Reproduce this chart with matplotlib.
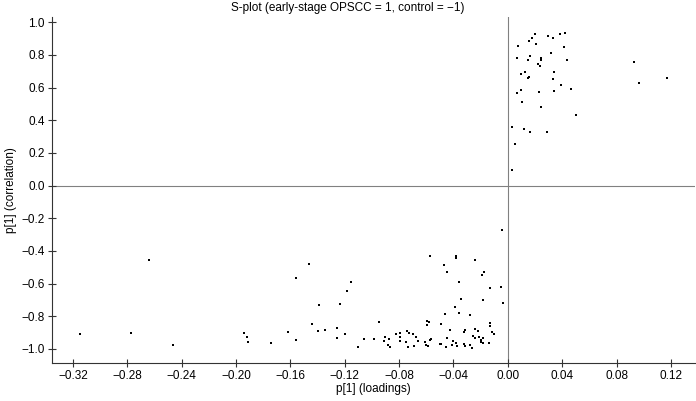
import matplotlib.pyplot as plt
from matplotlib.ticker import FuncFormatter

# S-plot points
x_pos = [0.0198, 0.0176, 0.0156, 0.0210, 0.0293, 0.0330, 0.0382, 0.0421, 0.0072, 0.0411,
         0.0315, 0.0065, 0.0161, 0.0149, 0.0242, 0.0244, 0.0225, 0.0234, 0.0436, 0.0097,
         0.0129, 0.0156, 0.0149, 0.0340, 0.0335, 0.0389, 0.0468, 0.0094, 0.0070, 0.0232,
         0.0340, 0.0102, 0.0244, 0.0502, 0.0031, 0.0117, 0.0163, 0.0286, 0.0050, 0.0031,
         0.0929, 0.0963, 0.1175]
y_pos = [0.930, 0.901, 0.883, 0.866, 0.915, 0.905, 0.926, 0.934, 0.852, 0.848,
         0.809, 0.779, 0.795, 0.768, 0.781, 0.767, 0.744, 0.730, 0.768, 0.681,
         0.693, 0.662, 0.656, 0.693, 0.650, 0.617, 0.591, 0.587, 0.565, 0.575,
         0.581, 0.513, 0.483, 0.430, 0.358, 0.344, 0.326, 0.328, 0.256, 0.095,
         0.758, 0.626, 0.656]

x_neg = [-0.3148, -0.2775, -0.2642, -0.2461, -0.1940, -0.1920, -0.1909, -0.1744, -0.1619, -0.1560,
         -0.1557, -0.1464, -0.1157, -0.1184, -0.1390, -0.1236, -0.1440, -0.1398, -0.1349, -0.1258,
         -0.1256, -0.1202, -0.1101, -0.1062, -0.0988, -0.0951, -0.0904, -0.0875, -0.0912, -0.0885,
         -0.0870, -0.0823, -0.0797, -0.0792, -0.0792, -0.0753, -0.0738, -0.0742, -0.0725, -0.0576,
         -0.0384, -0.0379, -0.0244, -0.0470, -0.0446, -0.0173, -0.0188, -0.0362, -0.0134, -0.0048,
         -0.0348, -0.0180, -0.0035, -0.0392, -0.0462, -0.0362, -0.0278, -0.0595, -0.0578, -0.0593,
         -0.0492, -0.0134, -0.0131, -0.0423, -0.0313, -0.0325, -0.0239, -0.0222, -0.0119, -0.0102,
         -0.0698, -0.0674, -0.0691, -0.0661, -0.0613, -0.0602, -0.0591, -0.0576, -0.0566, -0.0502,
         -0.0490, -0.0453, -0.0448, -0.0414, -0.0404, -0.0377, -0.0381, -0.0325, -0.0313, -0.0281,
         -0.0267, -0.0259, -0.0242, -0.0215, -0.0195, -0.0180, -0.0200, -0.0183, -0.0136, -0.0040]
y_neg = [-0.911, -0.901, -0.456, -0.973, -0.903, -0.924, -0.960, -0.966, -0.897, -0.948,
         -0.564, -0.477, -0.593, -0.646, -0.728, -0.722, -0.850, -0.891, -0.883, -0.873,
         -0.930, -0.909, -0.985, -0.940, -0.938, -0.834, -0.924, -0.938, -0.952, -0.973,
         -0.985, -0.909, -0.905, -0.928, -0.952, -0.956, -0.987, -0.891, -0.903, -0.430,
         -0.432, -0.446, -0.456, -0.487, -0.526, -0.530, -0.550, -0.593, -0.626, -0.620,
         -0.691, -0.703, -0.720, -0.740, -0.783, -0.781, -0.795, -0.826, -0.834, -0.852,
         -0.846, -0.844, -0.860, -0.881, -0.881, -0.897, -0.877, -0.887, -0.897, -0.911,
         -0.909, -0.926, -0.983, -0.954, -0.958, -0.973, -0.983, -0.946, -0.940, -0.971,
         -0.971, -0.987, -0.930, -0.973, -0.950, -0.979, -0.966, -0.969, -0.979, -0.973,
         -0.991, -0.920, -0.934, -0.926, -0.942, -0.932, -0.958, -0.966, -0.966, -0.270]

x_ticks = [-0.32, -0.28, -0.24, -0.20, -0.16, -0.12, -0.08, -0.04, 0.00, 0.04, 0.08, 0.12]
y_ticks = [1.0, 0.8, 0.6, 0.4, 0.2, 0.0, -0.2, -0.4, -0.6, -0.8, -1.0]

plt.rcParams['font.family'] = ['Liberation Sans Narrow', 'Liberation Sans', 'DejaVu Sans']
plt.rcParams['font.size'] = 8.5

fig = plt.figure(figsize=(6.96, 4.01), dpi=100)
ax = fig.add_axes([0.0743, 0.0955, 0.9247, 0.862])

ax.axhline(0, color="#808080", lw=0.8, zorder=1)
ax.axvline(0, color="#808080", lw=0.8, zorder=1)
ax.plot(x_pos + x_neg, y_pos + y_neg, "s", color="black", markersize=2.1,
        markeredgewidth=0, zorder=3)

ax.set_xlim(-0.3357, 0.138)
ax.set_ylim(-1.084, 1.032)
ax.set_xticks(x_ticks)
ax.set_yticks(y_ticks)
ax.xaxis.set_major_formatter(FuncFormatter(lambda v, p: f"{v:.2f}".replace("-", "\u2212")))
ax.yaxis.set_major_formatter(FuncFormatter(lambda v, p: f"{v:.1f}".replace("-", "\u2212")))
ax.tick_params(direction="inout", length=6, width=0.8, color="#333333", labelsize=8.5, pad=2)

for side in ("top", "right"):
    ax.spines[side].set_visible(False)
for side in ("left", "bottom"):
    ax.spines[side].set_color("#333333")
    ax.spines[side].set_linewidth(0.8)

ax.set_xlabel("p[1] (loadings)", fontsize=8.5, labelpad=1)
ax.set_ylabel("p[1] (correlation)", fontsize=8.5, labelpad=3)
fig.text(0.5, 1 - 8 / 401, "S-plot (early-stage OPSCC = 1, control = \u22121)",
         ha="center", va="center", fontsize=8.5)

fig.savefig("out.png", dpi=100)
